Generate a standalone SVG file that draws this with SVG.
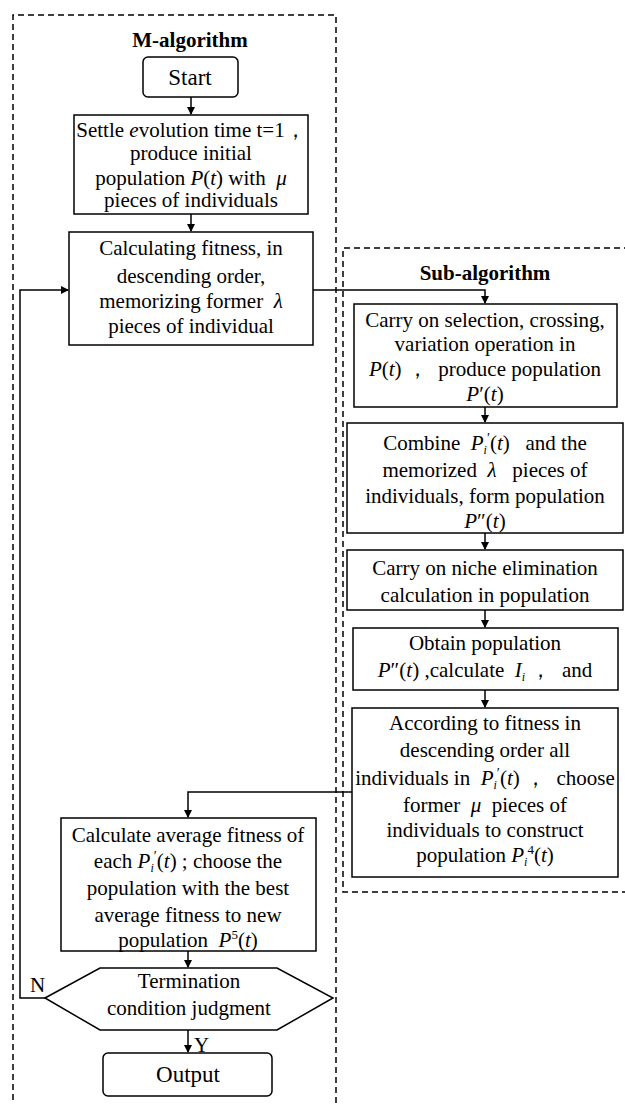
<svg xmlns="http://www.w3.org/2000/svg" width="625" height="1104" viewBox="0 0 625 1104">
<style>
.t{font-family:"Liberation Serif","Times New Roman",serif;font-size:21px;text-anchor:middle;fill:#000;white-space:pre}
.ttl{font-family:"Liberation Serif","Times New Roman",serif;font-size:21px;font-weight:bold;text-anchor:middle;fill:#000}
.big{font-family:"Liberation Serif","Times New Roman",serif;font-size:23px;text-anchor:middle;fill:#000}
.lbl{font-family:"Liberation Serif","Times New Roman",serif;font-size:21px;fill:#000}
.i{font-style:italic}
.box{fill:#fff;stroke:#000;stroke-width:1.5}
.dash{fill:none;stroke:#000;stroke-width:1.5;stroke-dasharray:6 4}
.con{fill:none;stroke:#000;stroke-width:1.5}
</style>
<defs>
<marker id="ah" markerWidth="8" markerHeight="8" refX="7" refY="4" orient="auto" markerUnits="userSpaceOnUse">
<path d="M0,0 L8,4 L0,8 Z" fill="#000"/>
</marker>
</defs>
<rect width="625" height="1104" fill="#fff"/>
<g id="m-algorithm-frame">
<path class="dash" d="M13,1110 V15 H336 V1110"/>
<text class="ttl" x="190" y="47">M-algorithm</text>
</g>
<g id="sub-algorithm-frame">
<path class="dash" d="M630,248 H343 V892 H630"/>
<text class="ttl" x="485" y="280">Sub-algorithm</text>
</g>
<g id="connectors">
<path class="con" d="M191,97 V114" marker-end="url(#ah)"/>
<path class="con" d="M191,214 V231" marker-end="url(#ah)"/>
<path class="con" d="M313,290 H485 V303" marker-end="url(#ah)"/>
<path class="con" d="M485,407 V422" marker-end="url(#ah)"/>
<path class="con" d="M485,533 V549" marker-end="url(#ah)"/>
<path class="con" d="M485,610 V627" marker-end="url(#ah)"/>
<path class="con" d="M485,690 V707" marker-end="url(#ah)"/>
<path class="con" d="M352,792 H188 V817" marker-end="url(#ah)"/>
<path class="con" d="M188,951 V967" marker-end="url(#ah)"/>
<path class="con" d="M188,1030 V1052" marker-end="url(#ah)"/>
<path class="con" d="M45,998 H20 V290 H68" marker-end="url(#ah)"/>
<text class="lbl" x="30" y="992">N</text>
<text class="lbl" x="194" y="1052">Y</text>
</g>
<g id="start">
<rect class="box" x="143" y="57" width="95" height="40" rx="5"/>
<text class="big" x="190" y="85">Start</text>
</g>
<g id="init">
<rect class="box" x="74" y="115" width="234" height="99"/>
<text class="t" x="191" y="137">Settle <tspan class="i">e</tspan>volution time t=1，</text>
<text class="t" x="191" y="160">produce initial</text>
<text class="t" x="191" y="185">population <tspan class="i">P</tspan>(<tspan class="i">t</tspan>) with  <tspan class="i">μ</tspan></text>
<text class="t" x="191" y="207">pieces of individuals</text>
</g>
<g id="fitness">
<rect class="box" x="69" y="232" width="244" height="113"/>
<text class="t" x="191" y="255">Calculating fitness, in</text>
<text class="t" x="191" y="283">descending order,</text>
<text class="t" x="191" y="308">memorizing former  <tspan class="i">λ</tspan></text>
<text class="t" x="191" y="333">pieces of individual</text>
</g>
<g id="selection">
<rect class="box" x="354" y="304" width="263" height="103"/>
<text class="t" x="485" y="327">Carry on selection, crossing,</text>
<text class="t" x="485" y="351">variation operation in</text>
<text class="t" x="485" y="376"><tspan class="i">P</tspan>(<tspan class="i">t</tspan>) ，  produce population</text>
<text class="t" x="485" y="401"><tspan class="i">P</tspan>′(<tspan class="i">t</tspan>)</text>
</g>
<g id="combine">
<rect class="box" x="347" y="423" width="276" height="110"/>
<text class="t" x="485" y="450">Combine  <tspan class="i">P</tspan><tspan class="i" font-size="12" dy="4">i</tspan><tspan font-size="14" dy="-11">′</tspan><tspan dy="7">(</tspan><tspan class="i">t</tspan>)   and the</text>
<text class="t" x="485" y="477">memorized  <tspan class="i">λ</tspan>   pieces of</text>
<text class="t" x="485" y="503">individuals, form population</text>
<text class="t" x="485" y="528"><tspan class="i">P</tspan>″(<tspan class="i">t</tspan>)</text>
</g>
<g id="niche">
<rect class="box" x="347" y="550" width="276" height="60"/>
<text class="t" x="485" y="575">Carry on niche elimination</text>
<text class="t" x="485" y="602">calculation in population</text>
</g>
<g id="obtain">
<rect class="box" x="353" y="628" width="265" height="62"/>
<text class="t" x="485" y="650">Obtain population</text>
<text class="t" x="485" y="677"><tspan class="i">P</tspan>″(<tspan class="i">t</tspan>) ,calculate  <tspan class="i">I</tspan><tspan class="i" font-size="12" dy="4">i</tspan><tspan dy="-4"> ，  and</tspan></text>
</g>
<g id="choose">
<rect class="box" x="352" y="708" width="266" height="169"/>
<text class="t" x="485" y="730">According to fitness in</text>
<text class="t" x="485" y="757">descending order all</text>
<text class="t" x="485" y="785">individuals in  <tspan class="i">P</tspan><tspan class="i" font-size="12" dy="4">i</tspan><tspan font-size="14" dy="-11">′</tspan><tspan dy="7">(</tspan><tspan class="i">t</tspan>) ，  choose</text>
<text class="t" x="485" y="812">former  <tspan class="i">μ</tspan>  pieces of</text>
<text class="t" x="485" y="837">individuals to construct</text>
<text class="t" x="485" y="862">population <tspan class="i">P</tspan><tspan class="i" font-size="12" dy="4">i</tspan><tspan font-size="13" dy="-12">4</tspan><tspan dy="8">(</tspan><tspan class="i">t</tspan>)</text>
</g>
<g id="average">
<rect class="box" x="61" y="818" width="255" height="133"/>
<text class="t" x="188" y="842">Calculate average fitness of</text>
<text class="t" x="188" y="868">each <tspan class="i">P</tspan><tspan class="i" font-size="12" dy="4">i</tspan><tspan font-size="14" dy="-11">′</tspan><tspan dy="7">(</tspan><tspan class="i">t</tspan>) ; choose the</text>
<text class="t" x="188" y="895">population with the best</text>
<text class="t" x="188" y="922">average fitness to new</text>
<text class="t" x="188" y="947">population  <tspan class="i">P</tspan><tspan font-size="13" dy="-8">5</tspan><tspan dy="8">(</tspan><tspan class="i">t</tspan>)</text>
</g>
<g id="termination">
<polygon class="box" points="45,998 100,968 277,968 333,998 277,1030 100,1030"/>
<text class="t" x="189" y="988">Termination</text>
<text class="t" x="189" y="1015">condition judgment</text>
</g>
<g id="output">
<rect class="box" x="103" y="1053" width="169" height="43" rx="5"/>
<text class="big" x="188" y="1082">Output</text>
</g>
</svg>
